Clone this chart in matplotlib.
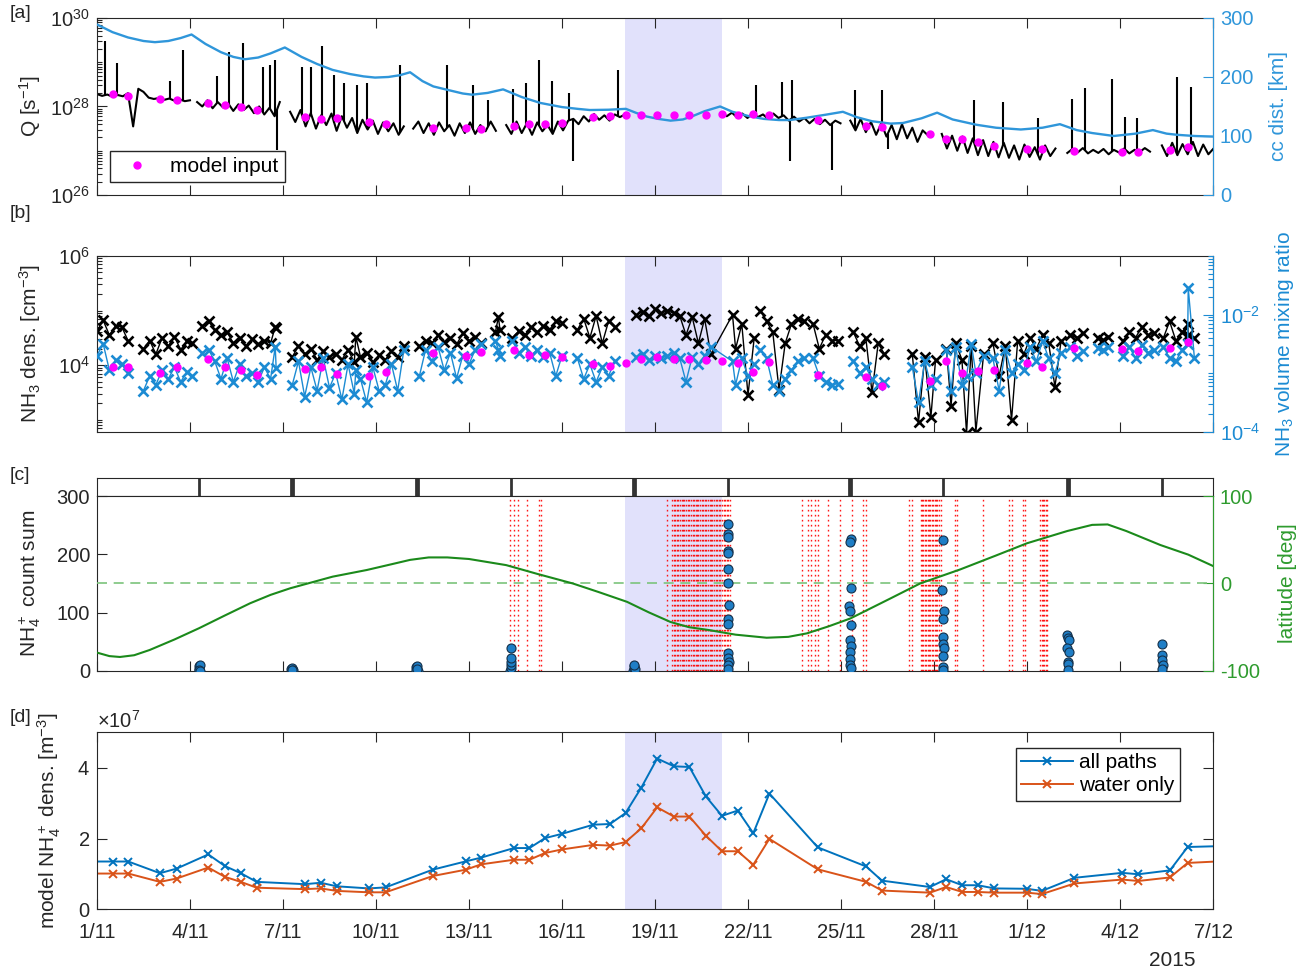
import numpy as np
import matplotlib
matplotlib.use("Agg")
import matplotlib.pyplot as plt
from matplotlib.ticker import FixedLocator, LogLocator, NullFormatter, ScalarFormatter

plt.rcParams["font.family"] = ["Liberation Sans", "DejaVu Sans"]
plt.rcParams["mathtext.fontset"] = "custom"
plt.rcParams["mathtext.rm"] = "Liberation Sans"
plt.rcParams["mathtext.it"] = "Liberation Sans:italic"
plt.rcParams["mathtext.bf"] = "Liberation Sans:bold"
plt.rcParams["axes.unicode_minus"] = False
plt.rcParams["font.size"] = 14.5

INK = "#262626"
CC_BLUE = "#2F96DA"
VMR_BLUE = "#1C8BD3"
MAGENTA = "#FF00FF"
GREEN_LINE = "#1B8A1B"
GREEN_AX = "#2E9B2E"
SHADE = "#E1E1FB"
ALL_BLUE = "#0072BD"
WATER_ORANGE = "#D95319"
TICK_FS = 14.5
LABEL_FS = 15

# ---- data (time in days since 1 Nov 2015) ----
tick_days = [0, 3, 6, 9, 12, 15, 18, 21, 24, 27, 30, 33, 36]
tick_labels = ["1/11", "4/11", "7/11", "10/11", "13/11", "16/11", "19/11",
               "22/11", "25/11", "28/11", "1/12", "4/12", "7/12"]
shade_start, shade_end = 17.03, 20.15

# model input times (one per rotation)
model_t = [0.516, 1.01, 2.03, 2.57, 3.59, 4.13, 4.64, 5.15, 6.71, 7.22, 7.73, 8.77,
           9.31, 10.83, 11.90, 12.39, 13.45, 13.95, 14.45, 14.99, 16.01, 16.55,
           17.05, 17.56, 18.07, 18.61, 19.11, 19.64, 20.16, 20.67, 21.17, 21.69,
           23.25, 24.81, 25.32, 26.87, 27.39, 27.91, 28.41, 28.95, 29.99, 30.48,
           31.53, 33.07, 33.59, 34.61, 35.18]
model_logq = [28.28, 28.24, 28.17, 28.14, 28.07, 28.03, 27.98, 27.93, 27.77, 27.71,
              27.73, 27.65, 27.60, 27.52, 27.52, 27.49, 27.55, 27.60, 27.60, 27.63,
              27.76, 27.78, 27.80, 27.80, 27.81, 27.81, 27.81, 27.81, 27.82, 27.81,
              27.83, 27.81, 27.69, 27.57, 27.53, 27.38, 27.27, 27.27, 27.19, 27.11,
              27.04, 27.04, 27.00, 26.97, 26.98, 27.01, 27.08]
model_lognh3 = [3.96, 3.96, 3.85, 3.96, 4.12, 3.96, 3.91, 3.82, 3.93, 3.96, 3.83, 3.80,
                3.87, 4.23, 4.17, 4.24, 4.28, 4.18, 4.18, 4.15, 4.02, 3.98, 4.04, 4.12,
                4.15, 4.12, 4.12, 4.10, 4.07, 4.04, 3.87, 4.06, 3.82, 3.79, 3.61, 3.71,
                4.07, 3.86, 3.89, 3.91, 4.03, 3.97, 4.32, 4.30, 4.26, 4.32, 4.43]

# production rate Q, log10, sampled every q_step days inside each data segment
q_step = 1 / 6
q_seg_start = [0.0, 3.23, 6.23, 10.2, 13.2, 20.15, 24.3, 27.25, 31.3, 34.35]
q_seg_log = [
    [28.28, 28.24, 28.27, 28.22, 28.26, 28.23, 28.30, 27.55, 28.40, 28.33, 28.20,
     28.17, 28.19, 28.15, 28.18, 28.13, 28.16, 28.12, 28.14],
    [28.10, 28.00, 28.14, 27.96, 28.10, 27.98, 28.07, 27.90, 28.05, 27.92, 28.02,
     27.85, 28.00, 27.82, 27.97, 27.78, 28.10],
    [27.88, 27.65, 27.92, 27.55, 27.85, 27.50, 27.80, 27.58, 27.84, 27.45, 27.78,
     27.52, 27.74, 27.40, 27.70, 27.48, 27.68, 27.38, 27.64, 27.44, 27.62, 27.36, 27.55],
    [27.50, 27.66, 27.40, 27.62, 27.36, 27.64, 27.44, 27.58, 27.34, 27.62, 27.40,
     27.64, 27.38, 27.58, 27.44, 27.66, 27.45],
    [27.58, 27.38, 27.66, 27.40, 27.62, 27.36, 27.64, 27.44, 27.58, 27.38, 27.66,
     27.46, 27.68, 27.72, 27.60, 27.78, 27.66, 27.83, 27.70, 27.80, 27.68, 27.82,
     27.76, 27.82],
    [27.86, 27.78, 27.86, 27.75, 27.84, 27.74, 27.85, 27.76, 27.82, 27.72, 27.84,
     27.74, 27.80, 27.68, 27.77, 27.66, 27.74, 27.62, 27.72, 27.60, 27.70, 27.58,
     27.68, 27.62],
    [27.68, 27.46, 27.72, 27.42, 27.65, 27.36, 27.62, 27.32, 27.58, 27.26, 27.60,
     27.28, 27.52, 27.20, 27.46, 27.35],
    [27.38, 27.05, 27.34, 27.00, 27.32, 26.95, 27.28, 26.90, 27.24, 26.88, 27.20,
     26.85, 27.18, 26.84, 27.12, 26.80, 27.14, 26.86, 27.08, 26.80, 27.12, 26.88, 27.05],
    [26.95, 27.04, 26.96, 27.06, 26.94, 27.02, 26.95, 27.04, 26.92, 27.02, 26.96,
     27.05, 26.94, 27.02, 26.97, 27.06, 26.98],
    [27.12, 26.88, 27.18, 26.90, 27.15, 26.92, 27.20, 26.88, 27.14, 26.92, 27.05],
]
# short outbursts / dips in Q
q_spike_t = [0.26, 0.65, 2.36, 2.77, 3.86, 4.27, 4.70, 5.35, 5.58, 5.74, 5.82,
             6.60, 6.89, 7.25, 7.65, 7.97, 8.38, 8.72, 9.77, 11.28, 12.14, 12.62,
             13.43, 13.84, 14.26, 14.68, 15.23, 15.36, 16.82, 21.26, 22.09, 22.35,
             22.43, 23.70, 24.45, 25.32, 25.50, 28.30, 29.22, 30.36, 31.44, 31.87,
             32.73, 33.16, 33.54, 34.83, 35.28]
q_spike_log = [29.47, 28.98, 28.58, 29.28, 28.69, 29.24, 29.43, 28.90, 28.94, 29.06,
               27.02, 28.90, 28.90, 29.36, 28.71, 28.54, 28.49, 28.54, 28.94, 28.94,
               28.49, 28.15, 28.39, 28.54, 29.06, 28.58, 28.30, 26.76, 28.83, 28.49,
               28.56, 26.76, 28.60, 26.57, 28.38, 28.38, 27.05, 28.15, 28.11, 27.74,
               28.17, 28.41, 28.62, 27.77, 27.74, 28.66, 28.44]

# comet-centre distance [km]
cc_t = [0, 0.5, 1.0, 1.5, 1.87, 2.3, 2.7, 3.05,
        3.5, 4.0, 4.4, 4.77, 5.2, 5.6, 6.06,
        6.6, 7.1, 7.6, 8.16, 8.6, 8.97, 9.4, 9.77, 10.1,
        10.5, 10.85, 11.4, 11.8, 12.1, 12.6, 13.1,
        13.7, 14.3, 15.0, 15.5, 15.9, 16.5, 17.06,
        17.4, 17.73, 18.1, 18.5, 18.9, 19.23, 19.6, 20.1,
        20.5, 21.0, 21.5, 22.0, 22.35, 22.9, 23.5, 24.06,
        24.5, 25.0, 25.6, 26.0, 26.6, 27.1,
        27.6, 28.37, 29.0, 29.8, 30.5, 31.06,
        31.6, 32.1, 32.8, 33.5, 34.06,
        34.5, 34.84, 35.4, 36.0]
cc_km = [289, 276, 267, 261, 259, 261, 266, 272,
         256, 242, 234, 230, 233, 240, 250,
         234, 222, 212, 205, 201, 199, 200, 203, 208,
         193, 184, 177, 172, 170, 173, 179,
         166, 156, 149, 146, 144, 144.5, 146,
         139, 133, 129, 126, 128, 134, 142, 150,
         141, 134, 129, 127, 127, 131, 136, 141,
         132, 125, 121, 122, 130, 139.5,
         128, 119, 114, 111, 114, 120,
         110, 105, 100, 104, 110,
         104, 102, 100, 99]

# NH3 density (log10 cm^-3) and volume mixing ratio (log10); nan = data gap
nh3_t = [0.0, 0.2, 0.4, 0.6, 0.8, 1.0, 1.03,
         1.5, 1.7, 1.9, 2.1, 2.3, 2.5, 2.7, 2.9, 3.05, 3.1,
         3.4, 3.6, 3.8, 4.0, 4.2, 4.4, 4.6, 4.8, 5.0, 5.2, 5.4, 5.6, 5.75, 5.78, 5.8,
         6.3, 6.5, 6.7, 6.9, 7.1, 7.3, 7.5, 7.7, 7.9, 8.1, 8.3, 8.35, 8.5, 8.7, 8.9,
         9.1, 9.3, 9.5, 9.7, 9.9, 10.0,
         10.4, 10.6, 10.8, 11.0, 11.2, 11.4, 11.6, 11.8, 12.0, 12.2, 12.4, 12.6,
         12.85, 12.95, 13.0, 13.1,
         13.4, 13.6, 13.8, 14.0, 14.2, 14.4, 14.6, 14.8, 15.0, 15.1,
         15.5, 15.7, 15.9, 16.1, 16.3, 16.5, 16.7, 16.9,
         17.4, 17.6, 17.8, 18.0, 18.2, 18.4, 18.6, 18.8, 19.0, 19.2, 19.4, 19.6,
         19.8, 20.5, 20.6, 20.8, 21.0, 21.2, 21.3,
         21.4, 21.6, 21.8, 22.0, 22.2, 22.4, 22.6, 22.8, 22.9,
         23.1, 23.3, 23.5, 23.7, 23.9, 24.0,
         24.4, 24.6, 24.8, 25.0, 25.2, 25.4, 25.5,
         26.3, 26.5, 26.7, 26.9, 27.05, 27.1,
         27.4, 27.55, 27.7, 27.9, 28.05, 28.2, 28.35, 28.6, 28.7,
         28.9, 29.1, 29.3, 29.5, 29.7, 29.9, 30.1, 30.3, 30.5, 30.7, 30.9, 31.1, 31.2,
         31.4, 31.6, 31.8, 31.9,
         32.3, 32.45, 32.6, 32.7,
         33.1, 33.3, 33.5, 33.7, 33.9, 34.1, 34.2,
         34.4, 34.6, 34.8, 35.0, 35.18, 35.2, 35.4]
nan = np.nan
nh3_dens = [4.62, 4.82, 4.55, 4.72, 4.70, 4.45, nan,
            4.30, 4.45, 4.20, 4.50, 4.35, 4.52, 4.28, 4.45, 4.40, nan,
            4.72, 4.80, 4.65, 4.55, 4.60, 4.40, 4.50, 4.35, 4.48, 4.38, 4.45, 4.40,
            4.70, 4.68, nan,
            4.15, 4.35, 4.20, 4.30, 4.10, 4.25, 4.15, 4.20, 4.10, 4.28, 4.05, 4.52,
            4.15, 4.22, 4.05, 4.18, 4.10, 4.25, 4.15, 4.35, nan,
            4.35, 4.45, 4.40, 4.55, 4.42, 4.50, 4.38, 4.58, 4.45, 4.52, 4.40, nan,
            4.60, 4.88, 4.64, nan,
            4.50, 4.62, 4.55, 4.70, 4.60, 4.72, 4.65, 4.80, 4.78, nan,
            4.65, 4.85, 4.50, 4.90, 4.40, 4.80, 4.70, nan,
            4.92, 4.98, 4.90, 5.02, 4.95, 5.00, 4.95, 4.90, 4.55, 4.88, 4.40, 4.85,
            4.20, 4.92, 4.30, 4.75, 3.45, 4.50, nan,
            5.00, 4.80, 4.60, 3.55, 4.40, 4.75, 4.85, 4.80, nan,
            4.75, 4.30, 4.55, 4.45, 4.45, nan,
            4.60, 4.35, 4.50, 3.50, 4.40, 4.20, nan,
            4.20, 2.95, 4.15, 3.05, 4.10, nan,
            4.30, 3.25, 4.40, 4.10, 2.75, 4.35, 2.78, 4.20, nan,
            4.40, 3.80, 4.35, 2.99, 4.45, 4.20, 4.50, 4.30, 4.55, 4.40, 3.60, 4.45, nan,
            4.55, 4.50, 4.58, nan,
            4.50, 4.46, 4.52, nan,
            4.45, 4.60, 4.50, 4.70, 4.55, 4.58, nan,
            4.50, 4.80, 4.45, 4.60, 4.75, 4.55, 4.50]
nh3_vmr = [-2.70, -2.50, -2.95, -2.78, -2.85, -3.00, nan,
           -3.30, -3.05, -3.20, -2.95, -3.10, -2.90, -3.15, -2.98, -3.05, nan,
           -2.65, -2.60, -2.80, -3.10, -2.75, -3.15, -2.85, -3.05, -3.00, -3.15, -2.90,
           -3.10, -2.55, -2.92, nan,
           -3.20, -2.80, -3.40, -2.90, -3.30, -2.75, -3.25, -3.00, -3.45, -2.85, -3.35,
           -2.95, -3.10, -3.50, -2.90, -3.30, -3.20, -2.85, -3.30, -2.60, nan,
           -3.05, -2.60, -2.80, -2.55, -2.95, -2.65, -3.09, -2.70, -2.85, -2.60, -2.50, nan,
           -2.45, -2.60, -2.70, nan,
           -2.45, -2.65, -2.55, -2.70, -2.60, -2.72, -2.65, -3.05, -2.70, nan,
           -2.75, -3.10, -2.85, -3.15, -2.90, -3.05, -2.80, nan,
           -2.72, -2.68, -2.78, -2.70, -2.75, -2.70, -2.65, -2.75, -3.15, -2.72, -2.85,
           -2.70, -2.55, -2.80, -3.20, -2.75, -3.05, -2.85, nan,
           -2.60, -2.75, -3.20, -3.30, -3.10, -2.95, -2.80, -2.75, nan,
           -2.75, -3.05, -3.15, -3.20, -3.18, nan,
           -2.80, -3.00, -2.90, -3.10, -3.20, -3.15, nan,
           -2.90, -3.50, -2.80, -3.20, -3.10, nan,
           -2.60, -3.30, -2.55, -3.20, -3.05, -2.50, -3.00, -2.70, nan,
           -2.75, -3.30, -2.60, -3.00, -2.85, -2.95, -2.55, -2.80, -2.45, -2.75, -3.00,
           -2.65, nan,
           -2.55, -2.70, -2.62, nan,
           -2.58, -2.60, -2.56, nan,
           -2.70, -2.55, -2.75, -2.52, -2.65, -2.60, nan,
           -2.55, -2.75, -2.80, -2.60, -2.50, -1.55, -2.75]

# spacecraft latitude [deg]
lat_t = [0, 0.4, 0.74, 1.2, 1.7, 2.5, 3.3, 4.1, 4.94, 5.6, 6.23, 7.6, 8.7, 9.5,
         10.1, 10.7, 11.3, 12.0, 13.2, 14.2, 15.35, 16.2, 17.1, 17.8, 18.5, 19.1,
         19.7, 20.6, 21.6, 22.3, 22.9, 23.6, 24.3, 25.6, 26.55, 27.84, 29.0, 30.0,
         31.3, 32.1, 32.6, 33.2, 34.3, 35.2, 36.0]
lat_deg = [-79, -83, -84, -82, -76, -64, -51, -37, -22.6, -13, -5.5, 7.8, 15.4, 22,
           27, 29.8, 29.8, 28, 21, 11, 0, -10, -21, -33, -44, -50,
           -53, -58.5, -62, -61, -57, -49, -40, -17, 0, 16, 32, 46,
           60, 67, 67.5, 60, 44, 33, 20]

# NH4+ count sums from ion mass spectra
ion_t = [3.28, 3.30, 3.31, 3.29, 3.32,
         6.26, 6.28, 6.30, 6.32, 6.29,
         10.28, 10.30, 10.32, 10.34, 10.31,
         13.33, 13.35, 13.36, 13.34, 13.37, 13.35,
         17.29, 17.31, 17.33, 17.35, 17.32,
         20.34, 20.36, 20.35, 20.37, 20.36, 20.35, 20.34, 20.38, 20.35, 20.36, 20.34,
         20.37, 20.38, 20.36, 20.35,
         24.31, 24.28, 24.33, 24.26, 24.30, 24.32, 24.29, 24.31, 24.28, 24.30, 24.29, 24.31,
         27.29, 27.27, 27.31, 27.30, 27.28, 27.30, 27.32, 27.29, 27.28, 27.30,
         31.28, 31.32, 31.34, 31.30, 31.35, 31.33, 31.31, 31.32,
         34.36, 34.34, 34.37, 34.38, 34.36]
ion_counts = [8, 4, 10, 2, 0,
              3, 0, 5, 1, 2,
              6, 2, 8, 0, 4,
              0, 5, 10, 16, 22, 40,
              0, 4, 8, 3, 11,
              252, 235, 230, 206, 202, 174, 151, 113, 89, 80, 31, 23, 15, 10, 3,
              226, 222, 142, 112, 103, 78, 53, 43, 33, 20, 11, 5,
              224, 139, 102, 89, 59, 47, 39, 25, 7, 1,
              61, 56, 53, 39, 33, 16, 12, 2,
              47, 27, 19, 10, 3]
strip_t = [3.30, 6.26, 6.32, 10.28, 10.34, 13.35, 17.29, 17.35, 20.36, 24.27, 24.33,
           27.30, 31.30, 31.36, 34.37]
red_t = [13.32, 13.45, 13.59, 13.86, 14.26, 14.31,
         18.38, 18.55, 18.62, 18.66, 18.71, 18.75, 18.80, 18.86, 18.90, 18.95, 19.01,
         19.06, 19.10, 19.16, 19.21, 19.25, 19.31, 19.36, 19.40, 19.46, 19.51, 19.55,
         19.61, 19.66, 19.70, 19.76, 19.81, 19.85, 19.91, 19.96, 20.00, 20.06, 20.11,
         20.16, 20.22, 20.27, 20.31, 20.37, 20.42,
         22.73, 22.95, 23.02, 23.16, 23.27, 23.59, 23.97, 24.34, 24.70, 24.81,
         26.20, 26.28, 26.57, 26.61, 26.66, 26.70, 26.75, 26.79, 26.84, 26.88, 26.93,
         26.97, 27.02, 27.06, 27.11, 27.16, 27.21, 27.68, 27.73, 28.57, 29.42, 29.51,
         29.86, 29.94, 30.42, 30.47, 30.52, 30.56, 30.60, 30.64]

# modelled NH4+ density [m^-3]
nh4_t = [-0.5] + model_t + [36.22]
nh4_all = [1.35e7, 1.35e7, 1.35e7, 1.02e7, 1.15e7, 1.55e7, 1.22e7, 1.02e7, 0.775e7,
           0.71e7, 0.75e7, 0.65e7, 0.59e7, 0.62e7, 1.12e7, 1.355e7, 1.46e7, 1.73e7,
           1.73e7, 2.01e7, 2.13e7, 2.39e7, 2.41e7, 2.72e7, 3.44e7, 4.26e7, 4.04e7,
           4.02e7, 3.19e7, 2.64e7, 2.79e7, 2.15e7, 3.27e7, 1.75e7, 1.21e7, 0.81e7,
           0.63e7, 0.85e7, 0.68e7, 0.68e7, 0.59e7, 0.58e7, 0.52e7, 0.89e7, 1.03e7,
           0.99e7, 1.10e7, 1.76e7, 1.785e7]
nh4_water = [1.01e7, 1.01e7, 1.01e7, 0.775e7, 0.87e7, 1.18e7, 0.915e7, 0.775e7,
             0.61e7, 0.57e7, 0.59e7, 0.52e7, 0.48e7, 0.48e7, 0.94e7, 1.12e7, 1.27e7,
             1.40e7, 1.40e7, 1.59e7, 1.69e7, 1.82e7, 1.80e7, 1.90e7, 2.29e7, 2.88e7,
             2.62e7, 2.62e7, 2.08e7, 1.64e7, 1.64e7, 1.26e7, 1.99e7, 1.13e7, 0.775e7,
             0.53e7, 0.47e7, 0.63e7, 0.49e7, 0.49e7, 0.47e7, 0.47e7, 0.43e7, 0.73e7,
             0.84e7, 0.80e7, 0.90e7, 1.31e7, 1.355e7]

# ---- assemble Q line with gaps ----
q_t_parts = [t0 + q_step * np.arange(len(v)) for t0, v in zip(q_seg_start, q_seg_log)]
q_t_flat = np.concatenate(q_t_parts)
q_log_flat = np.concatenate([np.array(v) for v in q_seg_log])
q_t = np.concatenate([np.append(p, np.nan) for p in q_t_parts])
q_log = np.concatenate([np.append(np.array(v), np.nan) for v in q_seg_log])


def style_main(ax, top=True, right=False, labelbottom=False):
    for s in ax.spines.values():
        s.set_color(INK)
        s.set_linewidth(0.8)
    ax.tick_params(which="both", direction="in", color=INK, labelcolor=INK,
                   labelsize=TICK_FS, width=0.8, top=top, right=right,
                   labelbottom=labelbottom, pad=5)
    ax.tick_params(which="major", length=7)
    ax.tick_params(which="minor", length=3.5)
    ax.set_xlim(0, 36)
    ax.xaxis.set_major_locator(FixedLocator(tick_days))
    ax.xaxis.set_minor_locator(FixedLocator([]))


def style_twin(ax, color):
    for k in ("left", "top", "bottom"):
        ax.spines[k].set_visible(False)
    ax.spines["right"].set_color(color)
    ax.spines["right"].set_linewidth(0.8)
    ax.tick_params(axis="y", which="both", direction="in", colors=color,
                   labelsize=TICK_FS, width=0.8, pad=5)
    ax.tick_params(axis="y", which="major", length=7)
    ax.tick_params(axis="y", which="minor", length=3.5)


def log_ticks(ax, majors):
    ax.yaxis.set_major_locator(FixedLocator(majors))
    ax.yaxis.set_minor_locator(LogLocator(base=10, subs=np.arange(1, 10), numticks=100))
    ax.yaxis.set_minor_formatter(NullFormatter())


def overlay(ax, log=False):
    o = ax.twinx()
    if log:
        o.set_yscale("log")
    o.set_ylim(ax.get_ylim())
    o.set_axis_off()
    return o


fig = plt.figure(figsize=(13.07, 9.72), dpi=100)
L, W = 0.0742, 0.8539
ax_a = fig.add_axes([L, 0.7994, W, 0.1821])
ax_b = fig.add_axes([L, 0.5559, W, 0.1808])
ax_s = fig.add_axes([L, 0.4897, W, 0.0182])
ax_c = fig.add_axes([L, 0.3097, W, 0.1800])
ax_d = fig.add_axes([L, 0.0645, W, 0.1821])

# ---- [a] production rate and distance ----
ax_a.set_yscale("log")
ax_a.set_ylim(1e26, 1e30)
ax_a.axvspan(shade_start, shade_end, color=SHADE, lw=0, zorder=0)
ax_a.plot(q_t, 10.0 ** q_log, color="black", lw=1.5)
ax_a.vlines(q_spike_t, 10.0 ** np.interp(q_spike_t, q_t_flat, q_log_flat),
            10.0 ** np.array(q_spike_log), color="black", lw=1.5)
style_main(ax_a)
log_ticks(ax_a, [1e26, 1e28, 1e30])
ax_a.set_ylabel("Q [s$^{-1}$]", color=INK, fontsize=LABEL_FS)
ax_a.yaxis.set_label_coords(-0.048, 0.5)
ax_a2 = ax_a.twinx()
ax_a2.plot(cc_t, cc_km, color=CC_BLUE, lw=1.7)
ax_a2.set_ylim(0, 300)
ax_a2.set_yticks([0, 100, 200, 300])
style_twin(ax_a2, CC_BLUE)
ax_a2.set_ylabel("cc dist. [km]", color=CC_BLUE, fontsize=LABEL_FS)
ax_a2.yaxis.set_label_coords(1.050, 0.5)
ax_a3 = overlay(ax_a, log=True)
ax_a3.plot(model_t, 10.0 ** np.array(model_logq), "o", color=MAGENTA, ms=5,
           label="model input", ls="none")
ax_a3.legend(loc="lower left", bbox_to_anchor=(0.0116, 0.073), borderaxespad=0,
             fancybox=False, edgecolor=INK, framealpha=1, fontsize=LABEL_FS,
             handlelength=2.0, handletextpad=0.6, borderpad=0.3)

# ---- [b] NH3 ----
ax_b.set_yscale("log")
ax_b.set_ylim(10 ** 2.78, 1e6)
ax_b.axvspan(shade_start, shade_end, color=SHADE, lw=0, zorder=0)
ax_b.plot(nh3_t, 10.0 ** np.array(nh3_dens), "x-", color="black", lw=1.0,
          ms=7, mew=1.9)
style_main(ax_b)
log_ticks(ax_b, [1e4, 1e6])
ax_b.set_ylabel("NH$_3$ dens. [cm$^{-3}$]", color=INK, fontsize=LABEL_FS)
ax_b.yaxis.set_label_coords(-0.048, 0.5)
ax_b2 = ax_b.twinx()
ax_b2.set_yscale("log")
ax_b2.plot(nh3_t, 10.0 ** np.array(nh3_vmr), "x-", color=VMR_BLUE, lw=1.0,
           ms=7, mew=1.9)
ax_b2.set_ylim(1e-4, 1e-1)
style_twin(ax_b2, VMR_BLUE)
log_ticks(ax_b2, [1e-4, 1e-2])
ax_b2.set_ylabel("NH$_3$ volume mixing ratio", color=VMR_BLUE, fontsize=LABEL_FS)
ax_b2.yaxis.set_label_coords(1.054, 0.5)
ax_b3 = overlay(ax_b, log=True)
ax_b3.plot(model_t, 10.0 ** np.array(model_lognh3), "o", color=MAGENTA, ms=5, ls="none")

# ---- strip with spectra times ----
ax_s.set_xlim(0, 36)
ax_s.set_ylim(0, 1)
ax_s.vlines(strip_t, 0, 1, color="#333333", lw=2.0)
ax_s.set_xticks([])
ax_s.set_yticks([])
for s in ax_s.spines.values():
    s.set_color(INK)
    s.set_linewidth(0.8)

# ---- [c] NH4+ counts and latitude ----
ax_c.set_ylim(0, 300)
ax_c.axvspan(shade_start, shade_end, color=SHADE, lw=0, zorder=0)
ax_c.vlines(red_t, 0, 300, colors="red", linestyles=[(0, (1.2, 2.4))], lw=1.0, alpha=0.9)
style_main(ax_c, top=False)
ax_c.set_yticks([0, 100, 200, 300])
ax_c.set_ylabel("NH$_4^+$ count sum", color=INK, fontsize=LABEL_FS)
ax_c.yaxis.set_label_coords(-0.048, 0.5)
ax_c2 = ax_c.twinx()
ax_c2.set_ylim(-100, 100)
ax_c2.axhline(0, color="#7CC47C", lw=1.2, ls=(0, (6, 4)))
ax_c2.plot(lat_t, lat_deg, color=GREEN_LINE, lw=1.5)
ax_c2.set_yticks([-100, 0, 100])
style_twin(ax_c2, GREEN_AX)
ax_c2.set_ylabel("latitude [deg]", color=GREEN_AX, fontsize=LABEL_FS)
ax_c2.yaxis.set_label_coords(1.058, 0.5)
ax_c3 = overlay(ax_c)
ax_c3.plot(ion_t, ion_counts, "o", ms=6.5, mfc="#1F7EC6", mec="#14304A", mew=0.8, ls="none")

# ---- [d] modelled NH4+ density ----
ax_d.axvspan(shade_start, shade_end, color=SHADE, lw=0, zorder=0)
ax_d.plot(nh4_t, nh4_all, "x-", color=ALL_BLUE, lw=1.4, ms=6, mew=1.4, label="all paths")
ax_d.plot(nh4_t, nh4_water, "x-", color=WATER_ORANGE, lw=1.4, ms=6, mew=1.4,
          label="water only")
ax_d.set_ylim(0, 5e7)
style_main(ax_d, top=True, right=True, labelbottom=True)
ax_d.set_yticks([0, 2e7, 4e7])
fmt = ScalarFormatter(useMathText=True)
ax_d.yaxis.set_major_formatter(fmt)
ax_d.yaxis.get_offset_text().set_fontsize(TICK_FS)
ax_d.yaxis.get_offset_text().set_color(INK)
ax_d.set_xticklabels(tick_labels)
ax_d.tick_params(axis="x", pad=10)
ax_d.set_ylabel("model NH$_4^+$ dens. [m$^{-3}$]", color=INK, fontsize=LABEL_FS)
ax_d.yaxis.set_label_coords(-0.030, 0.5)
ax_d.legend(loc="upper right", bbox_to_anchor=(0.9704, 0.911), borderaxespad=0,
            fancybox=False, edgecolor=INK, framealpha=1, fontsize=LABEL_FS,
            handlelength=2.5, handletextpad=0.3, borderpad=0.25, labelspacing=0.2)

# panel letters and year
for lab, y in (("[a]", 0.986), ("[b]", 0.780), ("[c]", 0.511), ("[d]", 0.262)):
    fig.text(0.007, y, lab, fontsize=14, color=INK, ha="left", va="center")
fig.text(0.8967, 0.0115, "2015", fontsize=LABEL_FS, color=INK, ha="center", va="center")

fig.savefig("out.png", dpi=100)
